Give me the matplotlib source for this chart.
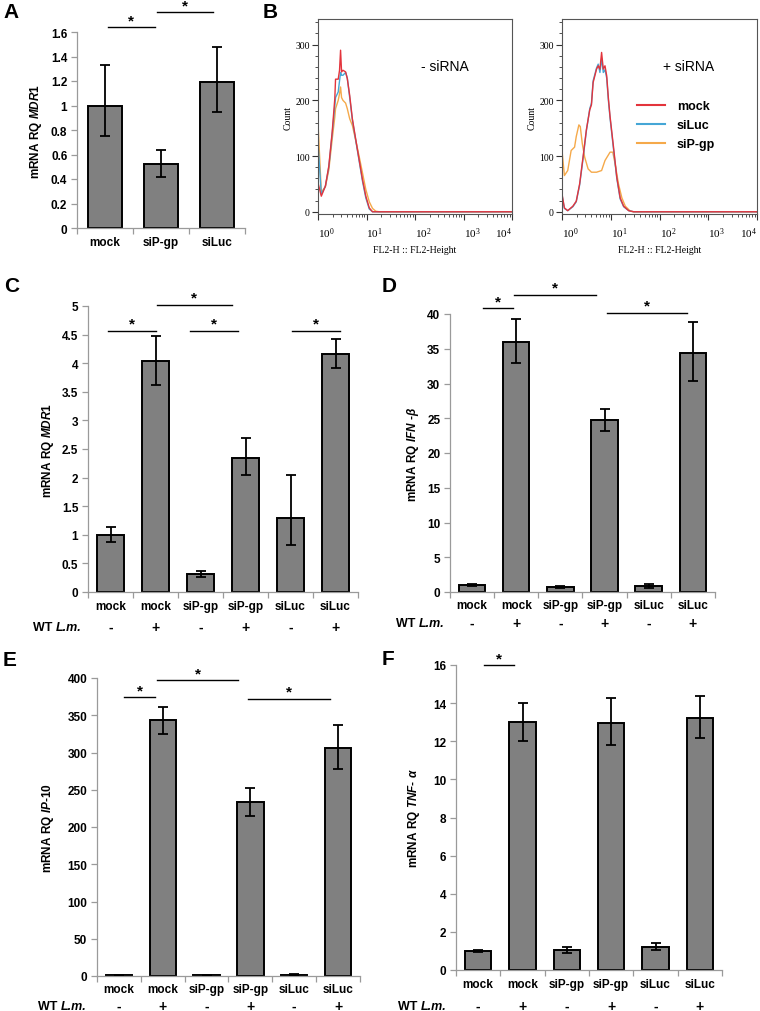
import numpy as np
import matplotlib
matplotlib.use("Agg")
import matplotlib.pyplot as plt
from matplotlib.ticker import LogLocator, NullFormatter, MultipleLocator, FuncFormatter

plt.rcParams['font.family'] = ['Liberation Sans', 'DejaVu Sans']
plt.rcParams['mathtext.fontset'] = 'custom'
plt.rcParams['mathtext.it'] = 'Liberation Sans:italic:bold'
plt.rcParams['mathtext.rm'] = 'Liberation Sans:bold'
plt.rcParams['mathtext.bf'] = 'Liberation Sans:bold'

W, H = 760, 1012
fig = plt.figure(figsize=(W / 100, H / 100), dpi=100)

def px_rect(x0, y0, x1, y1):
    return [x0 / W, 1 - y1 / H, (x1 - x0) / W, (y1 - y0) / H]

# ---------------- data ----------------
cats_A = ['mock', 'siP-gp', 'siLuc']
A_val = [1.00, 0.52, 1.19]
A_lo = [0.75, 0.42, 0.95]
A_hi = [1.33, 0.64, 1.48]

cats6 = ['mock', 'mock', 'siP-gp', 'siP-gp', 'siLuc', 'siLuc']
wt_lm = ['-', '+', '-', '+', '-', '+']

C_val = [1.00, 4.03, 0.31, 2.34, 1.30, 4.16]
C_lo = [0.88, 3.62, 0.26, 2.04, 0.82, 3.91]
C_hi = [1.13, 4.48, 0.37, 2.69, 2.05, 4.43]

D_val = [1.0, 36.0, 0.7, 24.7, 0.9, 34.4]
D_lo = [0.8, 33.0, 0.6, 23.1, 0.6, 30.4]
D_hi = [1.2, 39.3, 0.8, 26.3, 1.2, 38.8]

E_val = [1.5, 343, 1.5, 233, 2.0, 306]
E_lo = [1.0, 325, 1.0, 215, 1.5, 278]
E_hi = [2.0, 361, 2.0, 252, 2.5, 337]

F_val = [1.00, 13.00, 1.05, 12.97, 1.22, 13.20]
F_lo = [0.95, 12.00, 0.90, 11.80, 1.05, 12.15]
F_hi = [1.05, 14.02, 1.22, 14.25, 1.42, 14.35]

# flow cytometry histograms (FL2-Height vs Count)
B1_x = [1.00, 1.17, 1.42, 1.67, 1.96, 2.22, 2.30, 2.61, 2.78, 2.92, 3.06, 3.27,
        3.71, 4.02, 4.50, 5.11, 6.00, 7.03, 8.26, 9.68, 11.4, 13.3, 15.6, 18.4, 10000]
B1_mock = [52, 28, 46, 82, 143, 203, 238, 238, 254, 290, 251, 254,
           251, 239, 209, 167, 130, 94, 58, 28, 7, 0, 0, 0, 0]
B1_siLuc = [124, 31, 46, 80, 140, 190, 205, 215, 235, 250, 245, 245,
            250, 240, 205, 165, 128, 92, 55, 25, 5, 0, 0, 0, 0]
B1_sipgp = [160, 35, 45, 75, 130, 170, 185, 200, 212, 224, 205, 200,
            195, 185, 167, 155, 128, 100, 70, 40, 18, 6, 1, 0, 0]

B2_x = [1.00, 1.12, 1.31, 1.67, 1.96, 2.30, 2.70, 3.16, 3.71, 4.02, 4.35, 5.11,
        5.53, 6.00, 6.49, 7.03, 7.62, 8.26, 8.94, 9.68, 11.4, 13.3, 15.6, 18.4,
        23.3, 29.6, 10000]
B2_mock = [32, 7, 2, 10, 19, 50, 98, 147, 183, 192, 232, 256,
           262, 256, 286, 256, 262, 244, 204, 171, 116, 62, 25, 10,
           2, 0, 0]
B2_siLuc = [30, 6, 2, 9, 18, 48, 95, 145, 185, 195, 235, 258,
            265, 250, 275, 250, 255, 240, 200, 168, 112, 60, 23, 9,
            2, 0, 0]
B2o_x = [1.00, 1.00, 1.12, 1.31, 1.54, 1.81, 1.96, 2.22, 2.37, 2.61, 2.92, 3.43,
         4.02, 5.11, 6.49, 7.62, 9.68, 11.0, 12.3, 14.4, 16.9, 19.9, 25.3,
         29.6, 10000]
B2_sipgp = [292, 110, 65, 74, 110, 116, 135, 156, 153, 122, 98, 77,
            71, 71, 74, 92, 107, 107, 86, 50, 25, 10, 1,
            0, 0]

# ---------------- styles ----------------
BAR_C = '#808080'
SPINE_C = '#9a9a9a'
TICK_FS = 8.5

def bar_panel(rect, cats, vals, lo, hi, ylim, ystep, ylabel, ylab_dx,
              sigs, cat_pad, wt_off=None, wt_right=None):
    ax = fig.add_axes(px_rect(*rect))
    n = len(vals)
    x = np.arange(n)
    vals = np.asarray(vals, float)
    lo = np.asarray(lo, float)
    hi = np.asarray(hi, float)
    ax.bar(x, vals, width=0.6, color=BAR_C, edgecolor='black', linewidth=1.4, zorder=2)
    ax.errorbar(x, vals, yerr=[vals - lo, hi - vals], fmt='none', ecolor='black',
                elinewidth=1.3, capsize=3.5, capthick=1.3, zorder=3)
    ax.set_xlim(-0.5, n - 0.5)
    ax.set_ylim(*ylim)
    for s in ['top', 'right']:
        ax.spines[s].set_visible(False)
    for s in ['left', 'bottom']:
        ax.spines[s].set_color(SPINE_C)
        ax.spines[s].set_linewidth(0.9)
    ax.set_xticks(x)
    ax.set_xticklabels(cats, fontsize=TICK_FS, fontweight='bold')
    ax.set_xticks(np.arange(-0.5, n, 1.0), minor=True)
    ax.tick_params(axis='x', which='major', length=0, pad=cat_pad)
    ax.tick_params(axis='x', which='minor', length=4, color=SPINE_C, width=0.9)
    ax.yaxis.set_major_locator(MultipleLocator(ystep))
    ax.yaxis.set_major_formatter(FuncFormatter(lambda v, p: '%g' % v))
    ax.tick_params(axis='y', length=4, color=SPINE_C, width=0.9, pad=3, labelsize=TICK_FS)
    for t in ax.get_yticklabels():
        t.set_fontweight('bold')
    w = rect[2] - rect[0]
    ax.set_ylabel(ylabel, fontsize=TICK_FS, fontweight='bold')
    ax.yaxis.label.set_va('center')
    ax.yaxis.set_label_coords(-ylab_dx / w, 0.5)
    for (x1, x2, y) in sigs:
        ax.plot([x1, x2], [y, y], color='black', lw=1.0, clip_on=False, zorder=4)
        ax.annotate('*', xy=((x1 + x2) / 2, y), xytext=(0, 0), textcoords='offset points',
                    ha='center', va='bottom', fontsize=11, fontweight='bold',
                    annotation_clip=False)
    if wt_off is not None:
        for i, s in enumerate(wt_lm):
            ax.annotate(s, xy=(i, 0), xycoords=('data', 'axes fraction'),
                        xytext=(0, -wt_off * 0.72), textcoords='offset points',
                        ha='center', va='center', fontsize=10,
                        fontweight='bold', annotation_clip=False)
        lm = fig.text(wt_right / W, 1 - (rect[3] + wt_off) / H, 'L.m.',
                      ha='right', va='center', fontsize=9, fontweight='bold',
                      style='italic')
        ax.annotate('WT ', xy=(0, 0.5), xycoords=lm, ha='right', va='center',
                    fontsize=9, fontweight='bold', annotation_clip=False)
    return ax

# Panel A
bar_panel((77, 33, 245, 229), cats_A, A_val, A_lo, A_hi, (0, 1.6), 0.2,
          r'mRNA RQ $\it{MDR1}$', 41,
          [(0.05, 0.89, 1.64), (0.93, 1.93, 1.76)], cat_pad=6)

# Panel C
bar_panel((88, 307, 358, 593), cats6, C_val, C_lo, C_hi, (0, 5), 0.5,
          r'mRNA RQ $\it{MDR1}$', 40,
          [(-0.06, 1.0, 4.57), (1.03, 2.7, 5.02), (1.77, 2.83, 4.57), (4.03, 5.1, 4.57)],
          cat_pad=6, wt_off=35, wt_right=82)

# Panel D
bar_panel((450, 315, 715, 593), cats6, D_val, D_lo, D_hi, (0, 40), 5,
          r'mRNA RQ $\it{IFN}$ -$\it{\beta}$', 37,
          [(0.25, 0.93, 40.8), (0.95, 2.8, 42.8), (3.05, 4.86, 40.2)],
          cat_pad=5, wt_off=31, wt_right=445)

# Panel E
bar_panel((97, 679, 360, 977), cats6, E_val, E_lo, E_hi, (0, 400), 50,
          r'mRNA RQ $\it{IP}$-$\it{10}$', 49,
          [(0.12, 0.83, 374), (0.87, 2.72, 397), (2.95, 4.82, 372)],
          cat_pad=5, wt_off=30, wt_right=87)

# Panel F
bar_panel((456, 666, 722, 971), cats6, F_val, F_lo, F_hi, (0, 16), 2,
          r'mRNA RQ $\it{TNF}$- $\it{\alpha}$', 42,
          [(0.13, 0.80, 16.0)],
          cat_pad=6, wt_off=36, wt_right=447)

# ---------------- Panel B (flow histograms) ----------------
RED = '#e3343c'
BLUE = '#45a6d6'
ORANGE = '#f5a94a'

def flow_axes(rect):
    ax = fig.add_axes(px_rect(*rect))
    ax.set_xscale('log')
    ax.set_xlim(1, 1e4)
    ax.set_ylim(-4, 346)
    ax.set_yticks([0, 100, 200, 300])
    ax.yaxis.set_minor_locator(MultipleLocator(20))
    ax.set_xticks([1, 10, 100, 1000, 10000])
    ax.xaxis.set_minor_locator(LogLocator(base=10, subs=np.arange(2, 10), numticks=10))
    ax.xaxis.set_minor_formatter(NullFormatter())
    for s in ax.spines.values():
        s.set_color('#555555')
        s.set_linewidth(0.8)
    ax.tick_params(axis='both', which='major', length=4, width=0.8, color='#333333',
                   labelsize=7, pad=2)
    ax.tick_params(axis='x', which='major', pad=4, labelsize=8)
    ax.tick_params(axis='both', which='minor', length=2, width=0.6, color='#333333')
    xl = ax.get_xticklabels()
    for t in xl + ax.get_yticklabels():
        t.set_family(['Liberation Serif', 'DejaVu Serif'])
        t.set_fontweight('normal')
    for t in xl[:-1]:
        t.set_horizontalalignment('left')
    xl[-1].set_horizontalalignment('right')
    ax.set_ylabel('Count', fontsize=7, family='Liberation Serif', labelpad=2)
    ax.set_xlabel('FL2-H :: FL2-Height', fontsize=7, family='Liberation Serif', labelpad=4)
    return ax

b1 = flow_axes((318, 20, 512, 215))
b1.plot(B1_x, B1_sipgp, color=ORANGE, lw=1.0)
b1.plot(B1_x, B1_siLuc, color=BLUE, lw=1.0)
b1.plot(B1_x, B1_mock, color=RED, lw=1.0)
b1.text(0.53, 0.76, '- siRNA', transform=b1.transAxes, fontsize=10, ha='left', va='center')

b2 = flow_axes((562, 20, 757, 215))
b2.plot(B2o_x, B2_sipgp, color=ORANGE, lw=1.0, label='siP-gp')
b2.plot(B2_x, B2_siLuc, color=BLUE, lw=1.0, label='siLuc')
b2.plot(B2_x, B2_mock, color=RED, lw=1.0, label='mock')
b2.text(0.52, 0.76, '+ siRNA', transform=b2.transAxes, fontsize=10, ha='left', va='center')
hs, ls = b2.get_legend_handles_labels()
order = [2, 1, 0]
leg = b2.legend([hs[i] for i in order], [ls[i] for i in order], loc='upper left',
                bbox_to_anchor=(0.325, 0.64), frameon=False, handlelength=2.3,
                handletextpad=0.9, labelspacing=0.55, prop={'weight': 'bold', 'size': 9})
for l in leg.get_lines():
    l.set_linewidth(1.5)

# panel letters
for lab, x, y in [('A', 3, 3), ('B', 263, 3), ('C', 4, 277), ('D', 382, 277),
                  ('E', 3, 651), ('F', 382, 650)]:
    fig.text(x / W, 1 - y / H, lab, fontsize=15, fontweight='bold', ha='left', va='top')

fig.savefig('out.png', dpi=100)
